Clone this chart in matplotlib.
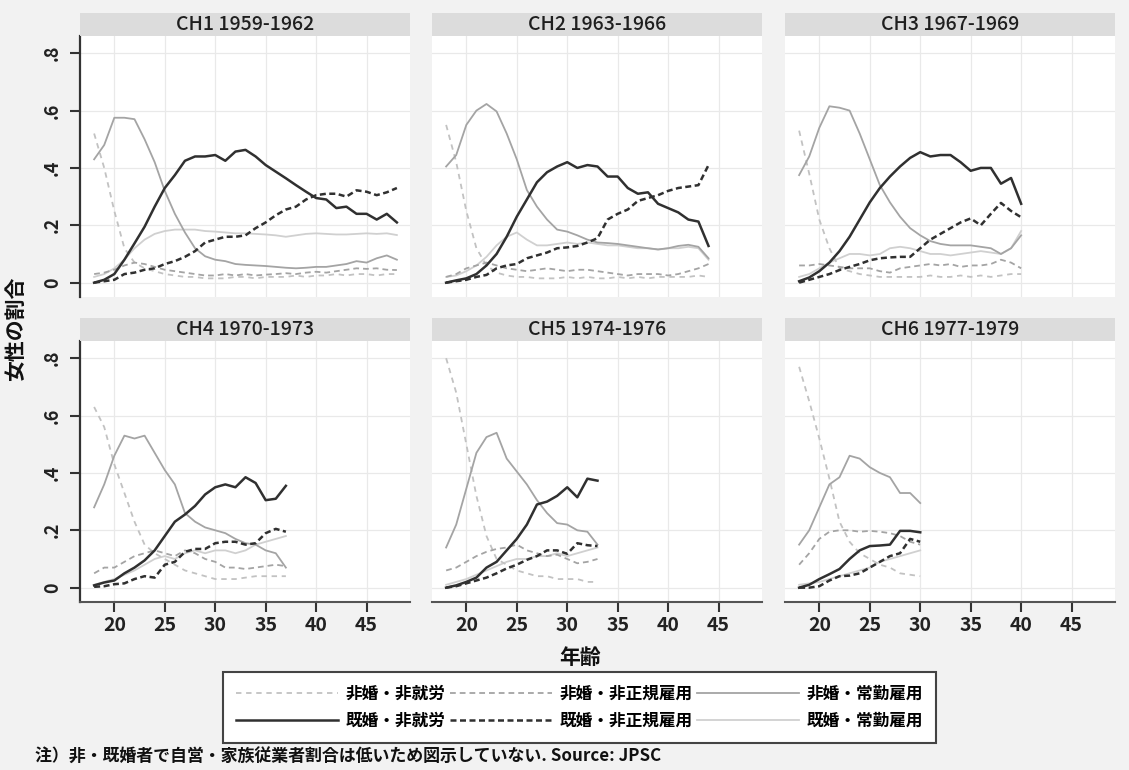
import numpy as np
import matplotlib
matplotlib.use("Agg")
import matplotlib.pyplot as plt
from matplotlib.patches import Rectangle
from matplotlib.lines import Line2D

plt.rcParams['font.family'] = ['Noto Sans CJK JP', 'DejaVu Sans']

# ---------------- data ----------------
COHORTS = ["CH1 1959-1962", "CH2 1963-1966", "CH3 1967-1969",
           "CH4 1970-1973", "CH5 1974-1976", "CH6 1977-1979"]
START_AGE = 18
END_AGES = [48, 44, 40, 37, 33, 30]

SERIES_LABELS = ["非婚・非就労", "非婚・非正規雇用", "非婚・常勤雇用",
                 "既婚・非就労", "既婚・非正規雇用", "既婚・常勤雇用"]

# 非婚・非就労
unmarried_nowork = [
    [0.52, 0.40, 0.25, 0.12, 0.07, 0.05, 0.04, 0.03, 0.025, 0.02, 0.02, 0.015, 0.015, 0.015, 0.02, 0.02,
     0.015, 0.02, 0.02, 0.02, 0.025, 0.02, 0.025, 0.025, 0.03, 0.025, 0.03, 0.03, 0.025, 0.03, 0.03],
    [0.55, 0.42, 0.25, 0.12, 0.06, 0.035, 0.025, 0.02, 0.02, 0.015, 0.015, 0.015, 0.02, 0.015, 0.02,
     0.015, 0.015, 0.02, 0.015, 0.02, 0.015, 0.02, 0.02, 0.02, 0.02, 0.025, 0.02],
    [0.53, 0.38, 0.22, 0.12, 0.05, 0.04, 0.03, 0.025, 0.02, 0.02, 0.02, 0.02, 0.02, 0.025, 0.02, 0.02,
     0.025, 0.02, 0.025, 0.02, 0.025, 0.03, 0.03],
    [0.63, 0.56, 0.43, 0.33, 0.23, 0.15, 0.12, 0.10, 0.08, 0.06, 0.05, 0.04, 0.03, 0.03, 0.03, 0.035,
     0.04, 0.04, 0.04, 0.04],
    [0.80, 0.68, 0.50, 0.32, 0.18, 0.10, 0.08, 0.06, 0.05, 0.04, 0.04, 0.03, 0.03, 0.03, 0.02, 0.02],
    [0.77, 0.65, 0.52, 0.38, 0.23, 0.16, 0.12, 0.10, 0.08, 0.07, 0.05, 0.045, 0.04],
]
# 非婚・非正規雇用
unmarried_nonregular = [
    [0.03, 0.035, 0.045, 0.06, 0.07, 0.065, 0.055, 0.045, 0.04, 0.035, 0.03, 0.025, 0.025, 0.03, 0.025,
     0.03, 0.025, 0.028, 0.03, 0.033, 0.03, 0.035, 0.038, 0.035, 0.04, 0.045, 0.05, 0.048, 0.05, 0.045, 0.044],
    [0.02, 0.03, 0.05, 0.06, 0.07, 0.06, 0.05, 0.045, 0.04, 0.045, 0.05, 0.045, 0.04, 0.045, 0.045, 0.04,
     0.035, 0.03, 0.025, 0.03, 0.03, 0.03, 0.025, 0.03, 0.04, 0.05, 0.065],
    [0.06, 0.06, 0.065, 0.06, 0.055, 0.05, 0.05, 0.05, 0.04, 0.035, 0.05, 0.055, 0.06, 0.065, 0.06, 0.065,
     0.055, 0.06, 0.06, 0.065, 0.08, 0.07, 0.05],
    [0.05, 0.07, 0.07, 0.09, 0.11, 0.12, 0.13, 0.12, 0.11, 0.13, 0.12, 0.10, 0.09, 0.07, 0.07, 0.065,
     0.07, 0.075, 0.08, 0.075],
    [0.06, 0.07, 0.09, 0.11, 0.125, 0.135, 0.14, 0.15, 0.13, 0.12, 0.11, 0.115, 0.10, 0.085, 0.09, 0.10],
    [0.08, 0.12, 0.17, 0.195, 0.20, 0.20, 0.195, 0.198, 0.195, 0.19, 0.18, 0.16, 0.15],
]
# 非婚・常勤雇用
unmarried_fulltime = [
    [0.43, 0.48, 0.575, 0.575, 0.57, 0.50, 0.42, 0.32, 0.24, 0.175, 0.12, 0.092, 0.08, 0.075, 0.065, 0.062,
     0.06, 0.058, 0.055, 0.052, 0.05, 0.052, 0.055, 0.055, 0.06, 0.065, 0.075, 0.07, 0.085, 0.095, 0.08],
    [0.405, 0.445, 0.55, 0.60, 0.623, 0.597, 0.52, 0.43, 0.323, 0.265, 0.22, 0.185, 0.178, 0.165, 0.15,
     0.14, 0.138, 0.135, 0.13, 0.125, 0.12, 0.116, 0.12, 0.128, 0.132, 0.125, 0.085],
    [0.375, 0.44, 0.54, 0.615, 0.61, 0.60, 0.52, 0.43, 0.34, 0.28, 0.23, 0.19, 0.165, 0.145, 0.135, 0.13,
     0.13, 0.13, 0.125, 0.12, 0.10, 0.12, 0.165],
    [0.28, 0.36, 0.46, 0.53, 0.52, 0.53, 0.47, 0.41, 0.36, 0.26, 0.23, 0.21, 0.20, 0.19, 0.17, 0.155,
     0.15, 0.13, 0.12, 0.07],
    [0.14, 0.22, 0.345, 0.47, 0.525, 0.54, 0.45, 0.405, 0.36, 0.305, 0.26, 0.225, 0.22, 0.20, 0.195, 0.15],
    [0.15, 0.20, 0.28, 0.36, 0.385, 0.46, 0.45, 0.42, 0.40, 0.385, 0.33, 0.33, 0.295],
]
# 既婚・非就労
married_nowork = [
    [0.0, 0.01, 0.03, 0.08, 0.137, 0.195, 0.265, 0.33, 0.375, 0.425, 0.44, 0.44, 0.445, 0.425, 0.457, 0.463,
     0.44, 0.41, 0.387, 0.364, 0.34, 0.317, 0.295, 0.29, 0.26, 0.265, 0.24, 0.24, 0.22, 0.24, 0.21],
    [0.0, 0.008, 0.015, 0.03, 0.06, 0.10, 0.16, 0.23, 0.29, 0.35, 0.385, 0.405, 0.42, 0.40, 0.41, 0.405,
     0.37, 0.37, 0.33, 0.31, 0.315, 0.275, 0.26, 0.245, 0.22, 0.213, 0.128],
    [0.005, 0.018, 0.04, 0.07, 0.11, 0.16, 0.22, 0.28, 0.33, 0.37, 0.405, 0.435, 0.455, 0.44, 0.445, 0.445,
     0.42, 0.39, 0.40, 0.40, 0.345, 0.365, 0.275],
    [0.008, 0.018, 0.025, 0.05, 0.07, 0.095, 0.13, 0.18, 0.23, 0.255, 0.285, 0.325, 0.35, 0.36, 0.35, 0.385,
     0.365, 0.305, 0.31, 0.355],
    [0.0, 0.008, 0.02, 0.035, 0.07, 0.09, 0.13, 0.17, 0.22, 0.29, 0.30, 0.32, 0.35, 0.315, 0.38, 0.373],
    [0.0, 0.01, 0.03, 0.047, 0.065, 0.10, 0.13, 0.145, 0.147, 0.15, 0.198, 0.198, 0.193],
]
# 既婚・非正規雇用
married_nonregular = [
    [0.0, 0.005, 0.01, 0.03, 0.035, 0.045, 0.05, 0.065, 0.075, 0.09, 0.11, 0.14, 0.15, 0.16, 0.16, 0.165,
     0.19, 0.21, 0.235, 0.255, 0.265, 0.29, 0.305, 0.31, 0.31, 0.30, 0.322, 0.317, 0.305, 0.315, 0.33],
    [0.0, 0.005, 0.01, 0.02, 0.027, 0.05, 0.06, 0.065, 0.085, 0.095, 0.105, 0.12, 0.123, 0.128, 0.14, 0.155,
     0.22, 0.24, 0.255, 0.285, 0.295, 0.305, 0.32, 0.33, 0.335, 0.34, 0.41],
    [0.0, 0.01, 0.02, 0.03, 0.044, 0.055, 0.065, 0.078, 0.085, 0.088, 0.09, 0.09, 0.12, 0.15, 0.17, 0.19,
     0.21, 0.224, 0.20, 0.24, 0.278, 0.25, 0.228],
    [0.003, 0.005, 0.012, 0.015, 0.03, 0.04, 0.035, 0.08, 0.09, 0.125, 0.135, 0.135, 0.155, 0.16, 0.16, 0.15,
     0.155, 0.19, 0.205, 0.195],
    [0.0, 0.005, 0.015, 0.025, 0.035, 0.05, 0.067, 0.08, 0.097, 0.11, 0.13, 0.13, 0.118, 0.155, 0.148, 0.145],
    [0.0, 0.0, 0.005, 0.025, 0.04, 0.042, 0.05, 0.07, 0.09, 0.11, 0.12, 0.17, 0.16],
]
# 既婚・常勤雇用
married_fulltime = [
    [0.02, 0.03, 0.05, 0.08, 0.12, 0.15, 0.17, 0.18, 0.185, 0.185, 0.185, 0.18, 0.178, 0.175, 0.172, 0.172,
     0.17, 0.168, 0.165, 0.16, 0.165, 0.17, 0.172, 0.17, 0.168, 0.168, 0.17, 0.172, 0.17, 0.172, 0.166],
    [0.02, 0.025, 0.04, 0.06, 0.09, 0.13, 0.16, 0.175, 0.15, 0.13, 0.13, 0.135, 0.14, 0.135, 0.14, 0.135,
     0.13, 0.13, 0.125, 0.12, 0.12, 0.115, 0.12, 0.12, 0.125, 0.12, 0.08],
    [0.02, 0.03, 0.05, 0.07, 0.085, 0.10, 0.10, 0.095, 0.10, 0.12, 0.125, 0.12, 0.11, 0.10, 0.10, 0.095,
     0.10, 0.105, 0.11, 0.105, 0.10, 0.12, 0.18],
    [0.01, 0.02, 0.03, 0.045, 0.06, 0.08, 0.10, 0.11, 0.10, 0.12, 0.13, 0.12, 0.13, 0.13, 0.12, 0.13,
     0.15, 0.16, 0.17, 0.18],
    [0.01, 0.02, 0.03, 0.045, 0.06, 0.075, 0.09, 0.10, 0.10, 0.11, 0.11, 0.12, 0.11, 0.12, 0.13, 0.14],
    [0.01, 0.015, 0.02, 0.03, 0.04, 0.05, 0.06, 0.07, 0.09, 0.10, 0.11, 0.12, 0.13],
]

X_TICKS = [20, 25, 30, 35, 40, 45]
Y_TICKS = [0, 0.2, 0.4, 0.6, 0.8]
Y_TICK_LABELS = ["0", ".2", ".4", ".6", ".8"]

# ---------------- styles ----------------
SERIES_DATA = [unmarried_nowork, unmarried_nonregular, unmarried_fulltime,
               married_nowork, married_nonregular, married_fulltime]
STYLES = [
    dict(color="#c2c2c2", lw=1.3, ls=(0, (3.0, 2.6))),
    dict(color="#a4a4a4", lw=1.3, ls=(0, (3.2, 2.2))),
    dict(color="#a4a4a4", lw=1.3, ls="-"),
    dict(color="#303030", lw=1.8, ls="-"),
    dict(color="#303030", lw=1.8, ls=(0, (2.4, 1.4))),
    dict(color="#d0d0d0", lw=1.3, ls="-"),
]
DRAW_ORDER = [5, 0, 1, 2, 4, 3]

W, H = 1129, 770
fig = plt.figure(figsize=(W / 100, H / 100), dpi=100, facecolor="#f2f2f2")


def fx(px):
    return px / W


def fy(py):
    return 1 - py / H


COL_LEFT = [80, 432, 785]
ROW_TOP = [36, 341]
AX_W, AX_H = 330, 261
STRIP_H = 23

for i, title in enumerate(COHORTS):
    r, c = divmod(i, 3)
    left, top = COL_LEFT[c], ROW_TOP[r]
    ax = fig.add_axes([fx(left), fy(top + AX_H), AX_W / W, AX_H / H])
    ax.set_facecolor("white")
    ages = np.arange(START_AGE, END_AGES[i] + 1)
    for k in DRAW_ORDER:
        vals = SERIES_DATA[k][i]
        assert len(vals) == len(ages), (i, k, len(vals), len(ages))
        st = STYLES[k]
        ax.plot(ages, vals, color=st["color"], lw=st["lw"], linestyle=st["ls"],
                solid_joinstyle="round", dash_capstyle="butt")
    ax.set_xlim(16.6, 49.3)
    ax.set_ylim(-0.05, 0.86)
    ax.set_xticks(X_TICKS)
    ax.set_yticks(Y_TICKS)
    ax.grid(True, color="#e9e9e9", lw=0.9)
    ax.set_axisbelow(True)
    for s in ax.spines.values():
        s.set_visible(False)
    if c == 0:
        ax.spines["left"].set_visible(True)
        ax.spines["left"].set_color("#333333")
        ax.spines["left"].set_linewidth(1.6)
        ax.set_yticklabels(Y_TICK_LABELS)
        ax.tick_params(axis="y", length=7, width=1.5, color="#333333", labelsize=13,
                       pad=6, labelrotation=90, labelcolor="#222222")
        for lab in ax.get_yticklabels():
            lab.set_va("center")
            lab.set_fontweight("bold")
    else:
        ax.tick_params(axis="y", length=0, labelleft=False)
    if r == 1:
        ax.spines["bottom"].set_visible(True)
        ax.spines["bottom"].set_color("#555555")
        ax.spines["bottom"].set_linewidth(1.5)
        ax.tick_params(axis="x", length=7, width=1.5, color="#333333", labelsize=14,
                       pad=3, labelcolor="#222222")
        for lab in ax.get_xticklabels():
            lab.set_fontweight("bold")
    else:
        ax.tick_params(axis="x", length=0, labelbottom=False)
    # strip
    fig.patches.append(Rectangle((fx(left), fy(top)), AX_W / W, STRIP_H / H,
                                 transform=fig.transFigure, facecolor="#dcdcdc",
                                 edgecolor="none", zorder=1))
    fig.text(fx(left + AX_W / 2), fy(top - STRIP_H / 2), title, ha="center", va="center",
             fontsize=14, color="#1e1e1e", weight="medium")

# axis titles
fig.text(fx(580), fy(657), "年齢", ha="center", va="center", fontsize=15, weight="bold",
         color="#111111")
fig.text(fx(15), fy(329), "女性の割合", ha="center", va="center", rotation=90, fontsize=15,
         weight="bold", color="#111111")

# legend
order = [0, 3, 1, 4, 2, 5]
handles = [Line2D([], [], color=STYLES[k]["color"], lw=STYLES[k]["lw"], linestyle=STYLES[k]["ls"])
           for k in order]
labels = [SERIES_LABELS[k] for k in order]
leg = fig.legend(handles, labels, ncol=3, loc="center",
                 bbox_to_anchor=(fx(579.5), fy(707.5)), frameon=True, fancybox=False,
                 edgecolor="#444444", facecolor="white", framealpha=1,
                 handlelength=6.1, handletextpad=0.45, columnspacing=0.3,
                 labelspacing=0.55, borderpad=0.8,
                 prop={"weight": "bold", "size": 12})
leg.get_frame().set_linewidth(1.5)

# footnote
fig.text(fx(35), fy(757), "注）非・既婚者で自営・家族従業者割合は低いため図示していない. Source: JPSC",
         ha="left", va="center", fontsize=12.2, weight="bold", color="#111111")

fig.savefig("out.png", dpi=100, facecolor=fig.get_facecolor())
